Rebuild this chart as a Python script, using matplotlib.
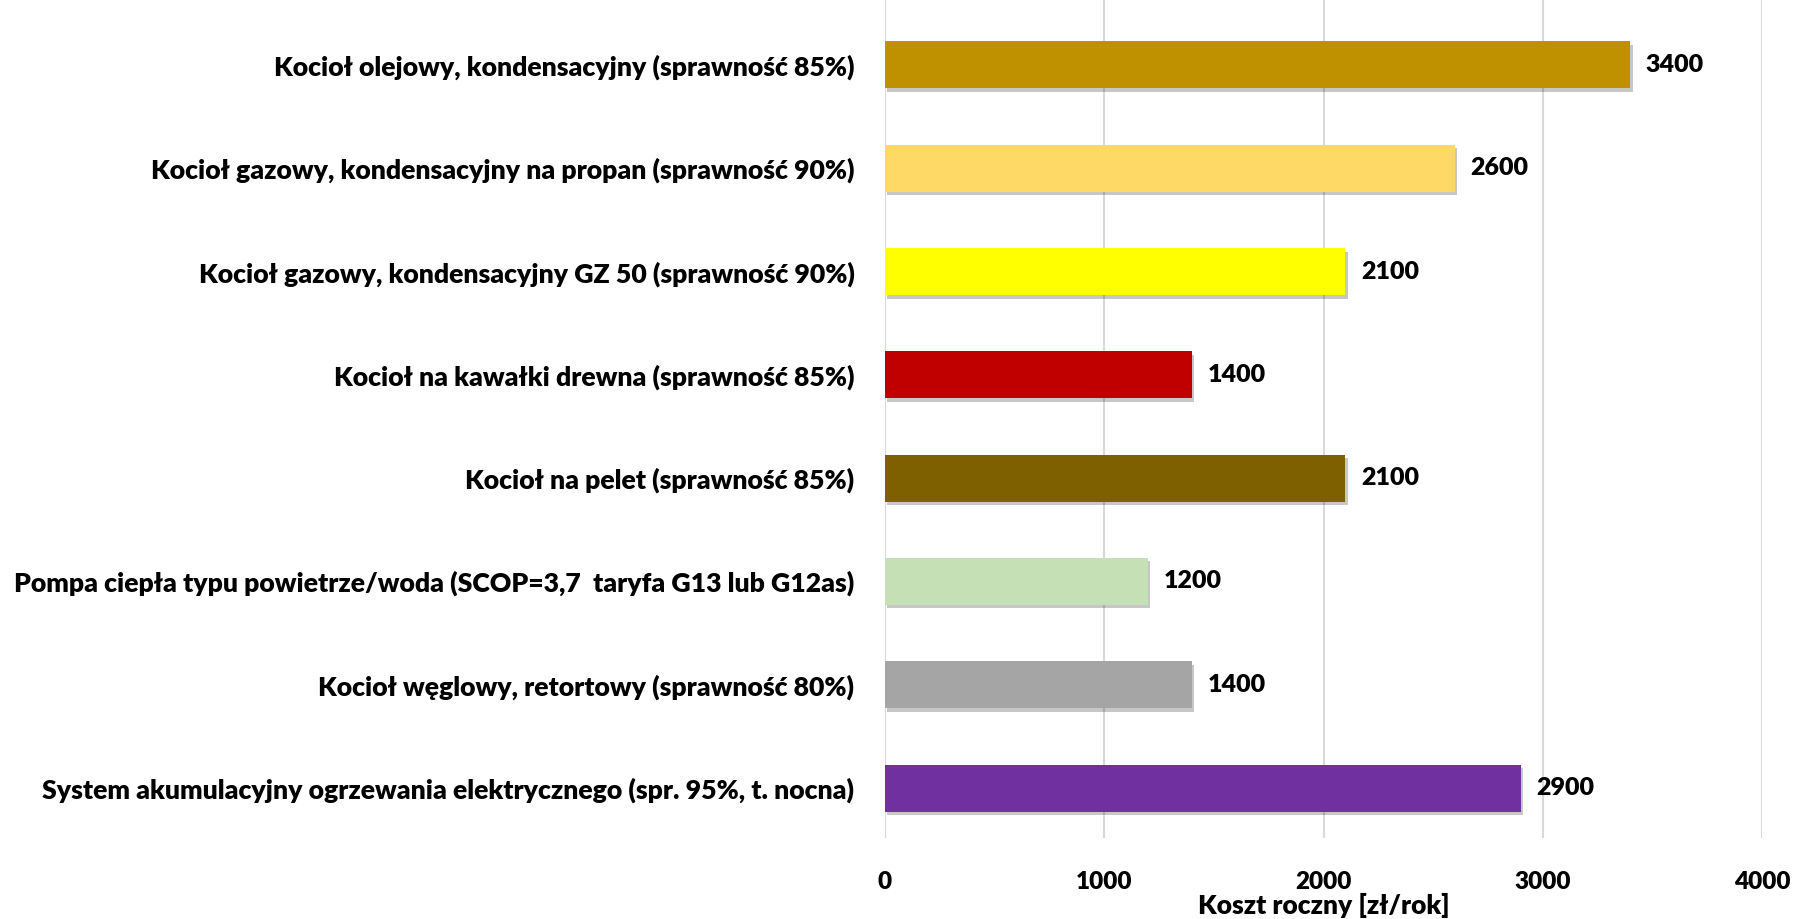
import matplotlib
matplotlib.use("Agg")
import matplotlib.pyplot as plt
import matplotlib.patheffects as pe

# ------------------ Data ------------------
categories = [
    "Kocioł olejowy, kondensacyjny (sprawność 85%)",
    "Kocioł gazowy, kondensacyjny na propan (sprawność 90%)",
    "Kocioł gazowy, kondensacyjny GZ 50 (sprawność 90%)",
    "Kocioł na kawałki drewna (sprawność 85%)",
    "Kocioł na pelet (sprawność 85%)",
    "Pompa ciepła typu powietrze/woda (SCOP=3,7  taryfa G13 lub G12as)",
    "Kocioł węglowy, retortowy (sprawność 80%)",
    "System akumulacyjny ogrzewania elektrycznego (spr. 95%, t. nocna)",
]
costs = [3400, 2600, 2100, 1400, 2100, 1200, 1400, 2900]
colors = ["#BF9000", "#FFD966", "#FFFF00", "#C00000", "#7F6000", "#C5E0B4", "#A5A5A5", "#7030A0"]
xticks = [0, 1000, 2000, 3000, 4000]

plt.rcParams["font.family"] = ["Lato", "DejaVu Sans"]
plt.rcParams["font.weight"] = "heavy"

# ------------------ Plot ------------------
fig = plt.figure(figsize=(17.96, 9.19), dpi=100)
ax = fig.add_axes([885 / 1796, 1 - 838 / 919, (1762 - 885) / 1796, 838 / 919])

ypos = list(range(len(categories)))
bars = ax.barh(ypos, costs, height=0.455, color=colors, zorder=3)
for b in bars:
    b.set_path_effects([pe.SimplePatchShadow(offset=(1.5, -2.5), alpha=0.22, shadow_rgbFace="black"), pe.Normal()])

for y, v in zip(ypos, costs):
    ax.text(v + 70, y, str(v), va="center", ha="left", fontsize=18, fontweight="heavy")

ax.set_xlim(0, 4000)
ax.set_ylim(7.484, -0.629)
ax.set_xticks(xticks)
ax.set_xticklabels([str(t) for t in xticks], fontsize=17.5, fontweight="heavy")
ax.set_yticks(ypos)
ax.set_yticklabels(categories, fontsize=19.2, fontweight="heavy")
ax.tick_params(axis="both", length=0)
ax.tick_params(axis="x", pad=24)
ax.tick_params(axis="y", pad=22)
ax.set_xlabel("Koszt roczny [zł/rok]", fontsize=19, fontweight="heavy", labelpad=0)

ax.grid(axis="x", color="#D9D9D9", linewidth=1.5, zorder=0)
for s in ax.spines.values():
    s.set_visible(False)

fig.savefig("out.png", dpi=100)
